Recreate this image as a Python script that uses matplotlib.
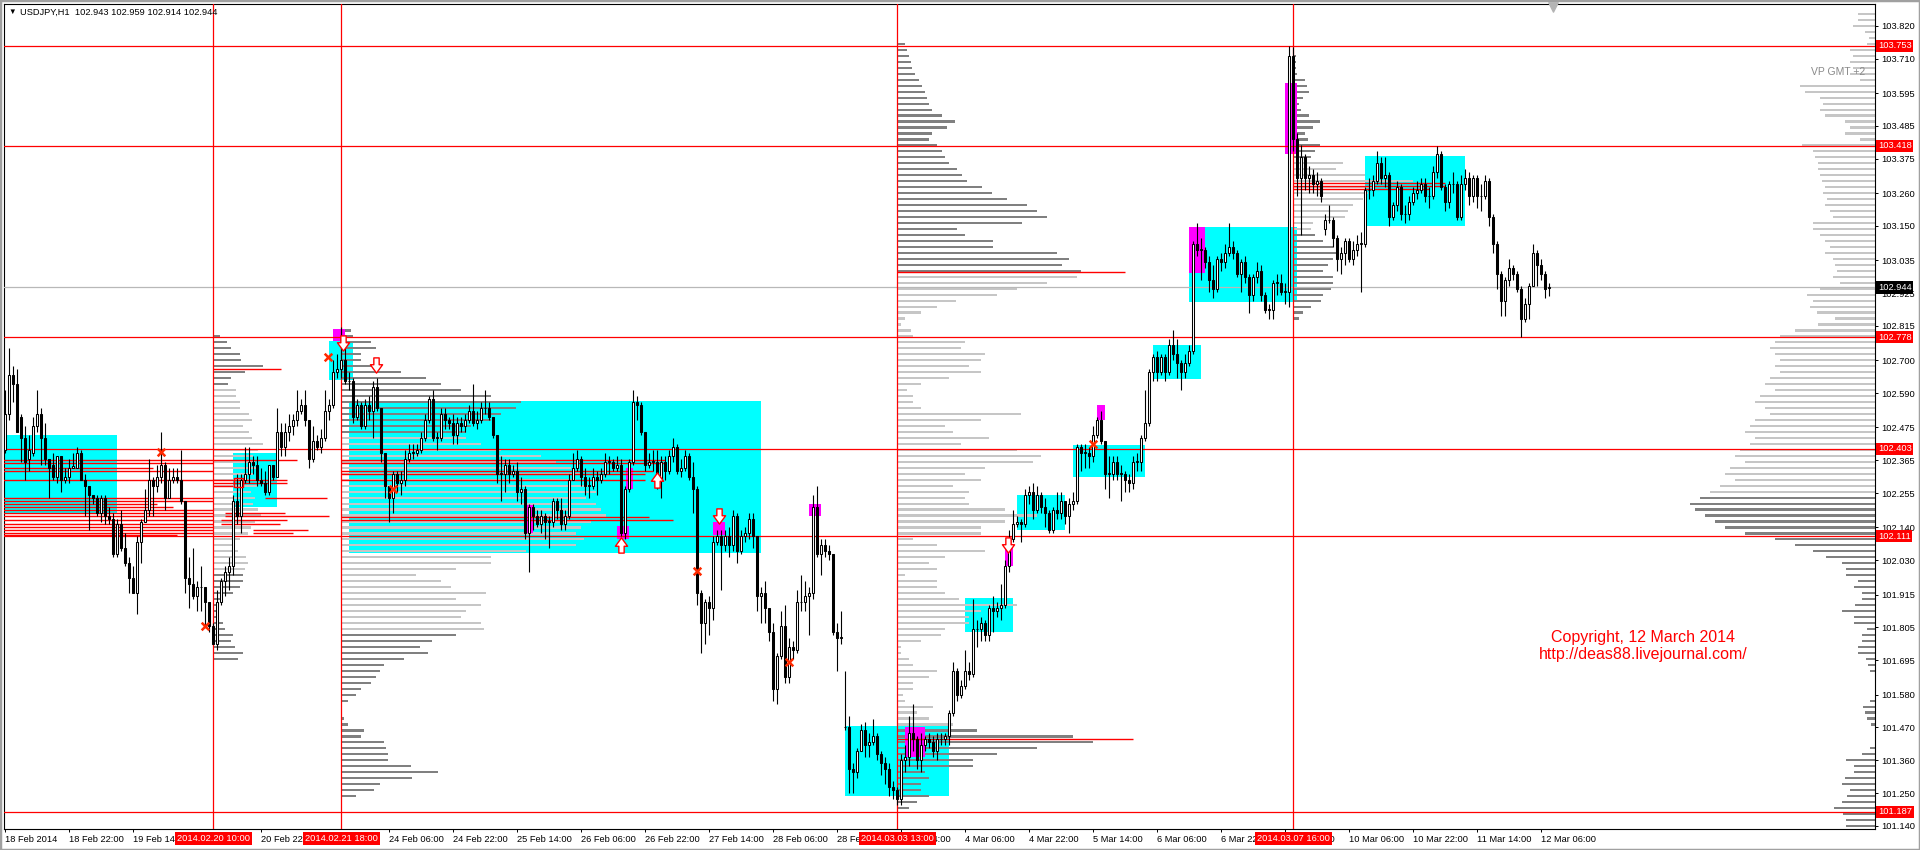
import numpy as np
import matplotlib

matplotlib.use("Agg")
import matplotlib.pyplot as plt
from matplotlib.path import Path
from matplotlib.patches import Rectangle
from matplotlib.transforms import blended_transform_factory

plt.rcParams["font.family"] = ["Liberation Sans", "DejaVu Sans"]

# ---------------- data: USDJPY H1, bar 0 = 18 Feb 2014 06:00 ----------------
opens = [
    102.40, 102.52, 102.65, 102.62, 102.51, 102.44, 102.37, 102.39, 102.48, 102.52,
    102.44, 102.37, 102.35, 102.31, 102.38, 102.30, 102.31, 102.34, 102.34, 102.39,
    102.30, 102.28, 102.25, 102.24, 102.19, 102.24, 102.18, 102.17, 102.05, 102.15,
    102.07, 102.02, 101.97, 101.92, 102.09, 102.16, 102.20, 102.30, 102.28, 102.31,
    102.35, 102.24, 102.30, 102.31, 102.30, 102.23, 101.97, 101.95, 101.91, 101.94,
    101.94, 101.89, 101.81, 101.75, 101.89, 101.96, 101.99, 102.01, 102.23, 102.18,
    102.30, 102.32, 102.36, 102.35, 102.30, 102.29, 102.26, 102.35, 102.31, 102.46,
    102.41, 102.46, 102.48, 102.50, 102.53, 102.55, 102.50, 102.37, 102.43, 102.41,
    102.44, 102.53, 102.55, 102.66, 102.67, 102.70, 102.63, 102.63, 102.51, 102.55,
    102.48, 102.55, 102.53, 102.61, 102.54, 102.39, 102.28, 102.24, 102.32, 102.29,
    102.30, 102.37, 102.39, 102.39, 102.40, 102.44, 102.50, 102.57, 102.44, 102.44,
    102.52, 102.50, 102.49, 102.45, 102.49, 102.48, 102.50, 102.53, 102.49, 102.50,
    102.54, 102.54, 102.51, 102.45, 102.32, 102.32, 102.35, 102.32, 102.33, 102.26,
    102.27, 102.12, 102.21, 102.18, 102.15, 102.18, 102.16, 102.16, 102.23, 102.20,
    102.15, 102.18, 102.30, 102.34, 102.37, 102.31, 102.28, 102.28, 102.31, 102.30,
    102.32, 102.36, 102.36, 102.34, 102.35, 102.12, 102.27, 102.36, 102.56, 102.55,
    102.46, 102.35, 102.36, 102.36, 102.30, 102.36, 102.33, 102.38, 102.41, 102.33,
    102.34, 102.38, 102.31, 102.27, 101.92, 101.82, 101.89, 101.87, 102.09, 102.11,
    102.08, 102.11, 102.08, 102.18, 102.06, 102.11, 102.12, 102.17, 102.11, 101.91,
    101.92, 101.87, 101.79, 101.60, 101.71, 101.81, 101.64, 101.74, 101.73, 101.89,
    101.89, 101.91, 101.92, 102.21, 102.05, 102.08, 102.06, 102.05, 101.79, 101.77,
    101.47, 101.47, 101.33, 101.32, 101.39, 101.46, 101.41, 101.42, 101.44, 101.38,
    101.35, 101.33, 101.27, 101.26, 101.23, 101.36, 101.37, 101.45, 101.43, 101.36,
    101.41, 101.43, 101.42, 101.39, 101.43, 101.43, 101.44, 101.52, 101.66, 101.58,
    101.61, 101.66, 101.65, 101.80, 101.80, 101.82, 101.78, 101.87, 101.86, 101.87,
    101.88, 102.01, 102.10, 102.15, 102.16, 102.15, 102.25, 102.26, 102.20, 102.25,
    102.21, 102.19, 102.13, 102.20, 102.19, 102.23, 102.18, 102.22, 102.23, 102.41,
    102.39, 102.39, 102.38, 102.45, 102.50, 102.43, 102.32, 102.32, 102.36, 102.32,
    102.32, 102.30, 102.29, 102.36, 102.36, 102.44, 102.49, 102.66, 102.71, 102.66,
    102.71, 102.66, 102.75, 102.72, 102.69, 102.66, 102.69, 102.73, 103.09, 103.07,
    103.07, 103.03, 102.97, 102.94, 103.04, 103.03, 103.06, 103.08, 103.06, 102.99,
    103.03, 102.98, 102.92, 102.98, 103.00, 102.92, 102.87, 102.87, 102.96, 102.96,
    102.93, 102.93, 103.72, 103.44, 103.31, 103.38, 103.31, 103.32, 103.29, 103.30,
    103.14, 103.17, 103.17, 103.11, 103.04, 103.06, 103.10, 103.04, 103.07, 103.09,
    103.09, 103.27, 103.27, 103.30, 103.36, 103.31, 103.32, 103.18, 103.22, 103.28,
    103.19, 103.19, 103.23, 103.26, 103.27, 103.29, 103.25, 103.25, 103.33, 103.39,
    103.28, 103.23, 103.29, 103.29, 103.18, 103.29, 103.31, 103.25, 103.31, 103.25,
    103.25, 103.30, 103.18, 103.09, 102.99, 102.90, 102.97, 103.01, 102.99, 102.94,
    102.84, 102.89, 102.95, 103.06, 103.02, 102.99, 102.943,
]
highs = [
    102.60, 102.74, 102.68, 102.67, 102.52, 102.48, 102.45, 102.51, 102.60, 102.54,
    102.49, 102.37, 102.39, 102.38, 102.38, 102.34, 102.37, 102.39, 102.41, 102.40,
    102.32, 102.28, 102.25, 102.25, 102.25, 102.25, 102.21, 102.19, 102.17, 102.20,
    102.12, 102.04, 102.01, 102.11, 102.17, 102.27, 102.37, 102.31, 102.35, 102.46,
    102.36, 102.34, 102.34, 102.34, 102.40, 102.23, 102.04, 102.07, 101.96, 102.01,
    101.94, 101.89, 101.82, 101.93, 101.97, 102.01, 102.04, 102.25, 102.32, 102.32,
    102.41, 102.41, 102.38, 102.38, 102.34, 102.33, 102.35, 102.35, 102.54, 102.49,
    102.49, 102.52, 102.52, 102.60, 102.57, 102.60, 102.50, 102.48, 102.45, 102.47,
    102.60, 102.57, 102.70, 102.72, 102.81, 102.76, 102.66, 102.64, 102.57, 102.56,
    102.57, 102.58, 102.63, 102.64, 102.54, 102.39, 102.28, 102.33, 102.33, 102.33,
    102.40, 102.42, 102.42, 102.42, 102.46, 102.52, 102.58, 102.60, 102.46, 102.54,
    102.54, 102.51, 102.52, 102.51, 102.51, 102.52, 102.55, 102.62, 102.53, 102.56,
    102.60, 102.56, 102.51, 102.45, 102.38, 102.37, 102.37, 102.35, 102.36, 102.31,
    102.28, 102.22, 102.22, 102.20, 102.20, 102.19, 102.18, 102.24, 102.24, 102.24,
    102.20, 102.32, 102.39, 102.40, 102.38, 102.34, 102.31, 102.34, 102.33, 102.34,
    102.39, 102.38, 102.37, 102.38, 102.37, 102.28, 102.37, 102.60, 102.58, 102.56,
    102.46, 102.39, 102.40, 102.40, 102.38, 102.38, 102.40, 102.44, 102.42, 102.37,
    102.40, 102.39, 102.36, 102.28, 101.93, 101.90, 101.91, 102.11, 102.13, 102.13,
    102.13, 102.14, 102.20, 102.19, 102.13, 102.14, 102.19, 102.19, 102.11, 101.94,
    101.96, 101.87, 101.82, 101.72, 101.86, 101.88, 101.77, 101.76, 101.93, 101.98,
    101.96, 101.94, 102.25, 102.28, 102.10, 102.10, 102.08, 102.05, 101.82, 101.86,
    101.66, 101.51, 101.35, 101.40, 101.48, 101.49, 101.45, 101.50, 101.45, 101.39,
    101.37, 101.35, 101.29, 101.27, 101.38, 101.41, 101.51, 101.55, 101.44, 101.45,
    101.44, 101.45, 101.44, 101.45, 101.45, 101.45, 101.53, 101.69, 101.67, 101.63,
    101.73, 101.69, 101.90, 101.83, 101.84, 101.83, 101.88, 101.91, 101.89, 101.95,
    102.03, 102.13, 102.20, 102.18, 102.17, 102.27, 102.28, 102.29, 102.28, 102.26,
    102.24, 102.20, 102.21, 102.26, 102.26, 102.23, 102.24, 102.26, 102.42, 102.42,
    102.42, 102.41, 102.48, 102.51, 102.53, 102.43, 102.38, 102.38, 102.38, 102.35,
    102.33, 102.32, 102.38, 102.39, 102.45, 102.60, 102.67, 102.72, 102.73, 102.72,
    102.72, 102.77, 102.80, 102.77, 102.70, 102.72, 102.75, 103.10, 103.16, 103.11,
    103.08, 103.05, 103.02, 103.05, 103.06, 103.09, 103.16, 103.10, 103.07, 103.04,
    103.05, 102.99, 102.99, 103.03, 103.02, 102.93, 102.89, 102.97, 102.99, 102.99,
    102.96, 103.753, 103.75, 103.46, 103.42, 103.39, 103.35, 103.34, 103.33, 103.31,
    103.19, 103.22, 103.18, 103.12, 103.08, 103.11, 103.11, 103.10, 103.12, 103.13,
    103.28, 103.31, 103.32, 103.40, 103.38, 103.38, 103.33, 103.23, 103.30, 103.29,
    103.22, 103.25, 103.28, 103.30, 103.31, 103.31, 103.28, 103.35, 103.418, 103.40,
    103.29, 103.30, 103.33, 103.30, 103.32, 103.34, 103.33, 103.32, 103.32, 103.29,
    103.32, 103.31, 103.19, 103.10, 103.00, 102.98, 103.04, 103.02, 103.00, 102.95,
    102.91, 102.96, 103.09, 103.07, 103.04, 103.00, 102.959,
]
lows = [
    102.39, 102.50, 102.56, 102.46, 102.36, 102.30, 102.33, 102.38, 102.46, 102.35,
    102.35, 102.24, 102.30, 102.29, 102.26, 102.29, 102.29, 102.34, 102.34, 102.30,
    102.18, 102.13, 102.22, 102.18, 102.16, 102.15, 102.15, 102.04, 102.04, 102.06,
    102.01, 101.92, 101.92, 101.85, 102.02, 102.16, 102.18, 102.18, 102.26, 102.29,
    102.20, 102.24, 102.29, 102.29, 102.22, 101.92, 101.87, 101.90, 101.86, 101.86,
    101.81, 101.79, 101.75, 101.73, 101.88, 101.91, 101.93, 101.98, 102.15, 102.12,
    102.29, 102.29, 102.32, 102.28, 102.28, 102.25, 102.25, 102.30, 102.31, 102.38,
    102.38, 102.43, 102.45, 102.48, 102.52, 102.48, 102.34, 102.36, 102.40, 102.39,
    102.43, 102.50, 102.54, 102.64, 102.64, 102.62, 102.60, 102.49, 102.50, 102.47,
    102.47, 102.50, 102.44, 102.53, 102.36, 102.24, 102.16, 102.19, 102.26, 102.25,
    102.28, 102.36, 102.37, 102.38, 102.39, 102.43, 102.49, 102.43, 102.40, 102.43,
    102.47, 102.47, 102.42, 102.42, 102.46, 102.46, 102.49, 102.48, 102.47, 102.49,
    102.52, 102.50, 102.44, 102.29, 102.23, 102.26, 102.29, 102.31, 102.23, 102.22,
    102.10, 101.99, 102.13, 102.14, 102.12, 102.10, 102.07, 102.14, 102.17, 102.13,
    102.13, 102.17, 102.30, 102.33, 102.28, 102.25, 102.24, 102.27, 102.25, 102.29,
    102.31, 102.32, 102.33, 102.33, 102.11, 102.10, 102.26, 102.35, 102.50, 102.45,
    102.33, 102.34, 102.33, 102.27, 102.24, 102.30, 102.32, 102.36, 102.32, 102.31,
    102.33, 102.30, 102.19, 101.88, 101.72, 101.75, 101.78, 101.83, 102.08, 101.93,
    102.06, 102.04, 102.06, 102.02, 102.05, 102.09, 102.10, 102.07, 101.86, 101.82,
    101.82, 101.76, 101.56, 101.55, 101.70, 101.62, 101.62, 101.70, 101.72, 101.86,
    101.86, 101.78, 101.90, 102.04, 101.98, 102.04, 102.03, 101.78, 101.66, 101.75,
    101.46, 101.25, 101.25, 101.30, 101.39, 101.37, 101.37, 101.41, 101.36, 101.31,
    101.28, 101.24, 101.23, 101.21, 101.21, 101.32, 101.34, 101.39, 101.33, 101.32,
    101.39, 101.40, 101.37, 101.36, 101.41, 101.41, 101.41, 101.51, 101.56, 101.57,
    101.60, 101.63, 101.64, 101.74, 101.76, 101.76, 101.76, 101.79, 101.84, 101.83,
    101.87, 101.99, 102.09, 102.14, 102.09, 102.14, 102.22, 102.17, 102.19, 102.19,
    102.14, 102.12, 102.12, 102.17, 102.17, 102.15, 102.12, 102.20, 102.22, 102.33,
    102.34, 102.34, 102.36, 102.44, 102.42, 102.27, 102.24, 102.30, 102.30, 102.23,
    102.26, 102.26, 102.27, 102.33, 102.33, 102.43, 102.48, 102.63, 102.63, 102.65,
    102.63, 102.65, 102.70, 102.64, 102.60, 102.64, 102.68, 102.72, 103.05, 102.97,
    103.01, 102.93, 102.91, 102.93, 103.00, 103.01, 103.05, 103.04, 102.98, 102.93,
    102.96, 102.86, 102.90, 102.96, 102.90, 102.86, 102.84, 102.84, 102.92, 102.92,
    102.89, 102.88, 103.40, 103.25, 103.12, 103.27, 103.26, 103.26, 103.25, 103.23,
    103.12, 103.16, 103.08, 103.00, 102.99, 103.02, 103.03, 103.02, 103.05, 102.93,
    103.08, 103.24, 103.25, 103.29, 103.29, 103.28, 103.15, 103.17, 103.20, 103.17,
    103.16, 103.17, 103.22, 103.24, 103.26, 103.23, 103.21, 103.24, 103.31, 103.27,
    103.20, 103.21, 103.26, 103.17, 103.17, 103.27, 103.22, 103.23, 103.21, 103.20,
    103.24, 103.15, 103.06, 102.94, 102.85, 102.85, 102.95, 102.97, 102.93, 102.778,
    102.83, 102.84, 102.95, 102.95, 102.97, 102.91, 102.914,
]
closes = [
    102.52, 102.65, 102.62, 102.46, 102.44, 102.36, 102.40, 102.48, 102.52, 102.44,
    102.37, 102.34, 102.31, 102.38, 102.30, 102.31, 102.34, 102.345, 102.39, 102.30,
    102.28, 102.25, 102.24, 102.19, 102.24, 102.18, 102.17, 102.05, 102.15, 102.07,
    102.02, 101.97, 101.92, 102.09, 102.16, 102.20, 102.30, 102.28, 102.31, 102.35,
    102.24, 102.30, 102.31, 102.30, 102.23, 101.97, 101.95, 101.91, 101.94, 101.94,
    101.89, 101.81, 101.75, 101.89, 101.96, 101.99, 102.01, 102.23, 102.18, 102.30,
    102.32, 102.36, 102.35, 102.30, 102.29, 102.26, 102.35, 102.31, 102.46, 102.41,
    102.46, 102.48, 102.50, 102.53, 102.55, 102.50, 102.37, 102.43, 102.41, 102.44,
    102.53, 102.55, 102.66, 102.67, 102.70, 102.63, 102.63, 102.51, 102.55, 102.48,
    102.55, 102.53, 102.61, 102.54, 102.39, 102.28, 102.24, 102.32, 102.29, 102.30,
    102.37, 102.39, 102.39, 102.40, 102.44, 102.50, 102.57, 102.44, 102.44, 102.52,
    102.50, 102.49, 102.45, 102.49, 102.48, 102.50, 102.53, 102.49, 102.50, 102.54,
    102.54, 102.51, 102.45, 102.32, 102.32, 102.35, 102.32, 102.33, 102.26, 102.27,
    102.12, 102.21, 102.18, 102.15, 102.18, 102.16, 102.16, 102.23, 102.20, 102.15,
    102.18, 102.30, 102.34, 102.37, 102.31, 102.28, 102.28, 102.31, 102.30, 102.32,
    102.36, 102.36, 102.34, 102.35, 102.12, 102.27, 102.36, 102.56, 102.55, 102.46,
    102.35, 102.36, 102.36, 102.30, 102.36, 102.33, 102.38, 102.41, 102.33, 102.34,
    102.38, 102.31, 102.27, 101.92, 101.82, 101.89, 101.87, 102.09, 102.11, 102.08,
    102.11, 102.08, 102.18, 102.06, 102.11, 102.12, 102.17, 102.11, 101.91, 101.92,
    101.87, 101.79, 101.60, 101.71, 101.81, 101.64, 101.74, 101.73, 101.89, 101.89,
    101.91, 101.92, 102.21, 102.05, 102.08, 102.06, 102.05, 101.79, 101.77, 101.77,
    101.47, 101.33, 101.32, 101.39, 101.46, 101.41, 101.42, 101.44, 101.38, 101.35,
    101.33, 101.27, 101.26, 101.23, 101.36, 101.37, 101.45, 101.43, 101.36, 101.41,
    101.43, 101.42, 101.39, 101.43, 101.43, 101.44, 101.52, 101.66, 101.58, 101.61,
    101.66, 101.65, 101.80, 101.80, 101.82, 101.78, 101.87, 101.86, 101.87, 101.88,
    102.01, 102.10, 102.15, 102.16, 102.15, 102.25, 102.26, 102.20, 102.25, 102.21,
    102.19, 102.13, 102.20, 102.19, 102.23, 102.18, 102.22, 102.23, 102.41, 102.39,
    102.39, 102.38, 102.45, 102.50, 102.43, 102.32, 102.32, 102.36, 102.32, 102.32,
    102.30, 102.29, 102.36, 102.36, 102.44, 102.49, 102.66, 102.71, 102.66, 102.71,
    102.66, 102.75, 102.72, 102.69, 102.66, 102.69, 102.73, 103.09, 103.07, 103.07,
    103.03, 102.97, 102.94, 103.04, 103.03, 103.06, 103.08, 103.06, 102.99, 103.03,
    102.98, 102.92, 102.98, 103.00, 102.92, 102.87, 102.87, 102.96, 102.96, 102.93,
    102.93, 103.72, 103.44, 103.31, 103.38, 103.31, 103.32, 103.29, 103.30, 103.25,
    103.17, 103.17, 103.11, 103.04, 103.06, 103.10, 103.04, 103.07, 103.09, 103.09,
    103.27, 103.27, 103.30, 103.36, 103.31, 103.32, 103.18, 103.22, 103.28, 103.19,
    103.19, 103.23, 103.26, 103.27, 103.29, 103.25, 103.25, 103.33, 103.39, 103.28,
    103.23, 103.29, 103.29, 103.18, 103.29, 103.31, 103.25, 103.31, 103.25, 103.25,
    103.30, 103.18, 103.09, 102.99, 102.90, 102.97, 103.01, 102.99, 102.94, 102.84,
    102.89, 102.95, 103.06, 103.02, 102.99, 102.94, 102.944,
]

# labels that are fully covered by the red session boxes are left out
time_label_bars = [0, 16, 32, 64, 96, 112, 128, 144, 160, 176, 192,
                   208, 224, 240, 256, 272, 288, 304, 320, 336, 352, 368, 384]
time_labels = ["18 Feb 2014", "18 Feb 22:00", "19 Feb 14:00",
               "20 Feb 22:00", "24 Feb 06:00", "24 Feb 22:00",
               "25 Feb 14:00", "26 Feb 06:00", "26 Feb 22:00", "27 Feb 14:00",
               "28 Feb 06:00", "28 Feb 22:00", "3 Mar 14:00", "4 Mar 06:00",
               "4 Mar 22:00", "5 Mar 14:00", "6 Mar 06:00", "6 Mar 22:00",
               "7 Mar 14:00", "10 Mar 06:00", "10 Mar 22:00", "11 Mar 14:00",
               "12 Mar 06:00"]

price_ticks = [103.820, 103.710, 103.595, 103.485, 103.375, 103.260, 103.150,
               103.035, 102.925, 102.815, 102.700, 102.590, 102.475, 102.365,
               102.255, 102.140, 102.030, 101.915, 101.805, 101.695, 101.580,
               101.470, 101.360, 101.250, 101.140]

level_prices = [103.753, 103.418, 102.778, 102.403, 102.111, 101.187]
bid_price = 102.944

session_bars = [52, 84, 223, 322]
session_labels = ["2014.02.20 10:00", "2014.02.21 18:00",
                  "2014.03.03 13:00", "2014.03.07 16:00"]

# volume profiles, 0.02 price bins from the top price downwards
profA_top = 102.78
profA = [7, 14, 18, 27, 28, 50, 32, 18, 15, 23, 23, 27, 27, 36, 39, 30, 36, 39, 50, 45,
         40, 42, 45, 40, 48, 44, 38, 42, 40, 45, 48, 42, 38, 35, 27, 22, 25, 33, 35, 32,
         30, 30, 27, 20, 8, 5, 4, 6, 10, 12, 20, 18, 22, 30, 25]
profB_top = 102.80
profB = [10, 12, 30, 35, 20, 20, 40, 60, 85, 100, 120, 150, 180, 175, 160, 150, 130, 125, 125, 140,
         160, 200, 215, 230, 240, 235, 250, 255, 245, 255, 260, 265, 250, 240, 235,
         243, 235, 185, 150, 150, 115, 75, 100, 110, 145, 115, 140, 125, 120, 140, 143, 115, 91, 79, 87,
         63, 43, 39, 35, 30, 20, 15, 7, 0, 0, 3, 7, 23, 20, 43, 45, 47, 47, 70, 97,
         71, 39, 33, 15]
profC_top = 103.76
profC = [8, 10, 12, 14, 15, 18, 22, 25, 28, 30, 32, 35, 45, 58, 50, 35, 32, 40, 45, 48,
         52, 60, 65, 70, 85, 95, 110, 130, 140, 150, 125, 60, 68, 96, 96, 160, 172, 165, 184, 180,
         150, 120, 100,
         59, 40, 24, 8, 4, 14, 16, 68, 64, 88, 84, 72, 84, 52, 24, 10, 16, 16, 24, 124,
         84, 48, 56, 92, 64, 120, 144, 136, 88, 68, 84, 56, 72, 68, 72, 108, 140, 108, 84, 84,
         16, 40, 88, 48, 32, 40, 8, 40, 40, 48, 62, 120, 84, 72, 72, 48, 44, 24, 4, 4,
         12, 16, 40, 32, 16, 16, 6, 8, 36, 20, 32, 56, 80, 176, 196, 140, 100, 76, 76, 28,
         32, 24, 24, 32, 20, 12]
profD_top = 103.72
profD = [3, 3, 3, 4, 12, 14, 16, 10, 6, 8, 16, 27, 20, 12, 15, 27, 22, 18, 50, 43,
         72, 120, 80, 75, 70, 60, 55, 52, 20, 18, 22, 30, 40, 45, 40, 35, 30, 40, 40, 38,
         30, 28, 18, 10, 6]
profR_top = 103.86
profR = [17, 17, 22, 10, 6, 8, 25, 22, 25, 22, 25, 15, 75, 70, 55, 52, 55, 50, 30, 25,
         30, 15, 73, 62, 60, 57, 57, 55, 53, 50, 52, 48, 50, 45, 42, 62, 62, 55, 50, 45,
         50, 42, 40, 38, 42, 35, 55, 68, 62, 65, 58, 40, 57, 80, 95, 100, 105, 100, 95, 100,
         95, 105, 110, 100, 115, 120, 110, 105, 120, 125, 130, 120, 125, 135, 140, 130, 145, 150, 140, 155,
         165, 175, 185, 180, 170, 160, 150, 130, 100, 80, 62, 49, 33, 29, 29, 17, 21, 13, 13, 20,
         33, 21, 21, 8, 13, 13, 17, 17, 9, 7, 5, 0, 0, 0, 0, 5, 12, 10, 8, 4,
         0, 0, 0, 5, 13, 29, 21, 21, 30, 33, 25, 28, 33, 41, 32, 29, 29]

# value areas (light) of each profile
va = {"A": (102.00, 102.61), "B": (101.80, 102.44), "C": (101.47, 102.99),
      "D": (103.14, 103.36), "R": (102.25, 103.90)}

# point of control lines (price, start bar, end bar)
poc_price = [102.366, 102.357, 102.340, 102.330, 102.300, 102.290, 102.280, 102.240, 102.240,
             102.230, 102.220, 102.210, 102.200, 102.190, 102.190, 102.180, 102.180, 102.165,
             102.165, 102.150, 102.150, 102.140, 102.130, 102.130, 102.120, 102.120, 102.115,
             102.670, 102.366, 102.357, 102.330, 102.320, 102.300, 102.176, 102.165,
             102.995, 101.433, 103.293, 103.284, 103.273]
poc_x0 = [-0.5, -0.5, -0.5, -0.5, -0.5, 52, 52, -0.5, 65, -0.5, -0.5, -0.5, -0.5, -0.5, 55,
          -0.5, 55, -0.5, 54, -0.5, 54, -0.5, -0.5, 62, -0.5, 62, -0.5,
          52, 84, 84, 84, 84, 84, 84, 84, 223, 223, 322, 322, 322]
poc_x1 = [73, 52, 37, 52, 70.5, 70.5, 57, 52, 80.5, 52, 38, 42, 52, 52, 70, 52, 81, 52, 70.5,
          52, 68.7, 52, 52, 75.7, 52, 72, 43,
          69, 165, 165, 162, 160, 160, 161, 167, 280, 282, 360, 360, 356]

# balance boxes (start bar, end bar, low, high)
cyan_x0 = [-0.5, 57, 81, 85.9, 210, 239.9, 252.9, 266.9, 286.9, 295.9, 339.9]
cyan_x1 = [27.9, 68, 87, 188.9, 236, 251.8, 264.9, 284.8, 298.9, 322.9, 364.9]
cyan_lo = [102.185, 102.21, 102.634, 102.055, 101.241, 101.79, 102.13, 102.31, 102.636, 102.897, 103.15]
cyan_hi = [102.45, 102.39, 102.766, 102.565, 101.475, 101.905, 102.25, 102.417, 102.75, 103.147, 103.383]

mag_x0 = [82, 130.4, 155.1, 152.9, 177, 201, 225, 249.9, 272.9, 295.9, 319.9]
mag_x1 = [85, 132, 157, 156, 180, 204, 230, 251.8, 274.8, 299.9, 322.9]
mag_lo = [102.766, 102.12, 102.27, 102.103, 102.115, 102.18, 101.37, 102.012, 102.50, 102.993, 103.39]
mag_hi = [102.805, 102.215, 102.34, 102.145, 102.16, 102.22, 101.47, 102.076, 102.55, 103.147, 103.63]

# signal marks
cross_bar = [38.8, 50, 80.7, 96.8, 172.8, 196, 271.8]
cross_price = [102.394, 101.81, 102.71, 102.27, 101.995, 101.69, 102.42]
down_bar = [84.3, 92.6, 178.5, 250.7]
down_price = [102.757, 102.685, 102.18, 102.08]
up_bar = [162.9, 153.9]
up_price = [102.30, 102.08]
square_bar = [58.3]
square_price = [102.29]

# ---------------- figure ----------------
FS = 6.7
fig = plt.figure(figsize=(19.2, 8.5), dpi=100)
ax = fig.add_axes([4 / 1920, 21 / 850, 1871 / 1920, 825 / 850])
ax.set_xlim(-0.325, 467.4)
ax.set_ylim(101.1299, 103.8937)
x_right = ax.get_xlim()[1]

for x0, x1, lo, hi in zip(cyan_x0, cyan_x1, cyan_lo, cyan_hi):
    ax.add_patch(Rectangle((x0, lo), x1 - x0, hi - lo, facecolor="#00ffff",
                           edgecolor="none", zorder=1))


def draw_profile(anchor, top, vols, area, to_left=False):
    vols = np.asarray(vols, dtype=float)
    lv = top - 0.02 * np.arange(len(vols))
    w = vols / 4.0
    cols = np.where((lv >= area[0] - 1e-9) & (lv <= area[1] + 1e-9), "#c6c6c6", "#808080")
    left = anchor - w if to_left else np.full(len(w), anchor)
    ax.barh(lv, w, left=left, height=0.0072, color=cols, linewidth=0, zorder=2)


draw_profile(session_bars[0], profA_top, profA, va["A"])
draw_profile(session_bars[1], profB_top, profB, va["B"])
draw_profile(session_bars[2], profC_top, profC, va["C"])
draw_profile(session_bars[3], profD_top, profD, va["D"])
draw_profile(x_right, profR_top, profR, va["R"], to_left=True)

for x0, x1, lo, hi in zip(mag_x0, mag_x1, mag_lo, mag_hi):
    ax.add_patch(Rectangle((x0, lo), x1 - x0, hi - lo, facecolor="#ff00ff",
                           edgecolor="none", zorder=3))

ax.hlines(poc_price, poc_x0, poc_x1, color="red", linewidth=1.0, zorder=3)
for p in level_prices:
    ax.axhline(p, color="red", linewidth=0.9, zorder=3)
ax.axhline(bid_price, color="#b8b8b8", linewidth=0.9, zorder=3)
for b in session_bars:
    ax.axvline(b, color="red", linewidth=0.9, zorder=3)

# candles
n = min(len(opens), len(highs), len(lows), len(closes))
o = np.array(opens[:n])
h = np.array(highs[:n])
l = np.array(lows[:n])
c = np.array(closes[:n])
xb = np.arange(n)
up = c >= o
body_lo = np.minimum(o, c)
body_h = np.maximum(np.abs(c - o), 0.0015)
ax.vlines(xb, l, h, color="black", linewidth=0.8, zorder=4)
ax.bar(xb[up], body_h[up], bottom=body_lo[up], width=0.55, color="white",
       edgecolor="black", linewidth=0.75, zorder=5)
ax.bar(xb[~up], body_h[~up], bottom=body_lo[~up], width=0.55, color="black",
       edgecolor="black", linewidth=0.75, zorder=5)

# marks
arrow_dn = Path([(-0.35, 1), (0.35, 1), (0.35, 0.1), (0.8, 0.1), (0, -1),
                 (-0.8, 0.1), (-0.35, 0.1), (-0.35, 1)], closed=True)
arrow_up = Path([(-0.35, -1), (0.35, -1), (0.35, -0.1), (0.8, -0.1), (0, 1),
                 (-0.8, -0.1), (-0.35, -0.1), (-0.35, -1)], closed=True)
ax.scatter(cross_bar, cross_price, marker="x", s=30, color="#ff2a00", linewidths=1.8, zorder=6)
ax.scatter(down_bar, down_price, marker=arrow_dn, s=120, facecolors="white",
           edgecolors="red", linewidths=1.0, zorder=6)
ax.scatter(up_bar, up_price, marker=arrow_up, s=120, facecolors="white",
           edgecolors="red", linewidths=1.0, zorder=6)
ax.scatter(square_bar, square_price, marker="s", s=40, facecolors="none",
           edgecolors="red", linewidths=1.0, zorder=6)

# texts on chart
ax.text(409.4, 101.773, "Copyright, 12 March 2014", color="red", fontsize=11.5,
        ha="center", va="center", zorder=7)
ax.text(409.4, 101.713, "http://deas88.livejournal.com/", color="red", fontsize=11.5,
        ha="center", va="center", zorder=7)
ax.text(458.2, 103.666, "VP GMT +2", color="#8a8a8a", fontsize=7.5,
        ha="center", va="center", zorder=7)

# axes styling
for s in ax.spines.values():
    s.set_linewidth(0.8)
    s.set_color("black")
ax.yaxis.tick_right()
ax.set_yticks(price_ticks)
ax.set_yticklabels([f"{p:.3f}" for p in price_ticks])
ax.set_xticks(time_label_bars)
ax.set_xticklabels(time_labels)
for t in ax.get_xticklabels():
    t.set_ha("left")
ax.tick_params(axis="y", direction="out", length=2.5, width=0.7, pad=2, labelsize=FS)
ax.tick_params(axis="x", direction="out", length=2.5, width=0.7, pad=1.5, labelsize=FS)

tr_y = blended_transform_factory(ax.transAxes, ax.transData)
for p in level_prices:
    ax.text(1.0016, p, f"{p:.3f}", transform=tr_y, ha="left", va="center", fontsize=FS,
            color="white", bbox=dict(boxstyle="square,pad=0.18", fc="red", ec="none"),
            zorder=10, clip_on=False)
ax.text(1.0016, bid_price, f"{bid_price:.3f}", transform=tr_y, ha="left", va="center",
        fontsize=FS, color="white", bbox=dict(boxstyle="square,pad=0.18", fc="black", ec="none"),
        zorder=10, clip_on=False)

tr_x = blended_transform_factory(ax.transData, ax.transAxes)
for b, lab in zip(session_bars, session_labels):
    ax.text(b, -0.0115, lab, transform=tr_x, ha="center", va="center", fontsize=FS,
            color="white", bbox=dict(boxstyle="square,pad=0.2", fc="red", ec="none"),
            zorder=10, clip_on=False)

# chart shift marker
ax.scatter([n], [1 - 3 / 825], transform=tr_x, marker="v", s=45, color="#b4b4b4",
           clip_on=False, zorder=10)

# title
fig.text(8 / 1920, 1 - 12 / 850, "\u25bc", fontsize=5.5, va="center", ha="left")
fig.text(20 / 1920, 1 - 12 / 850, "USDJPY,H1  102.943 102.959 102.914 102.944",
         fontsize=FS, va="center", ha="left")

# window frame
fig.add_artist(Rectangle((0, 0), 1, 1, transform=fig.transFigure, fill=False,
                         edgecolor="#a0a0a0", linewidth=2.5))

fig.savefig("out.png", dpi=100, facecolor="white")
